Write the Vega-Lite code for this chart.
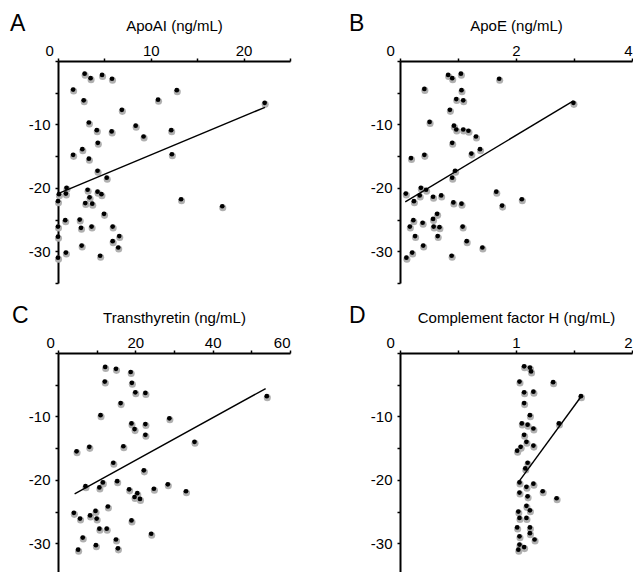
{
  "$schema": "https://vega.github.io/schema/vega-lite/v6.json",
  "padding": {"left": 10, "top": 13, "right": 0, "bottom": 0},
  "background": "white",
  "config": {
    "view": {"stroke": null},
    "font": "Liberation Sans",
    "axis": {
      "grid": false,
      "domainColor": "black",
      "domainWidth": 2,
      "tickColor": "black",
      "tickWidth": 1.5,
      "tickSize": 3,
      "labelFont": "Liberation Sans",
      "labelFontSize": 15,
      "labelColor": "black",
      "labelOverlap": false,
      "titleFont": "Liberation Sans",
      "titleFontSize": 15,
      "titleFontWeight": "normal",
      "titleColor": "black"
    },
    "axisX": {"labelPadding": 0, "titlePadding": 10},
    "axisY": {"labelPadding": 5},
    "title": {"fontSize": 23, "fontWeight": "normal", "anchor": "start", "frame": "group", "color": "black", "font": "Liberation Sans", "offset": 0}
  },
  "datasets": {
    "pts": [
      {"panel":"A","x":2.87,"y":-2.0},{"panel":"A","x":3.51,"y":-2.7},{"panel":"A","x":4.75,"y":-2.2},{"panel":"A","x":5.82,"y":-2.8},
      {"panel":"A","x":1.63,"y":-4.5},{"panel":"A","x":12.8,"y":-4.6},{"panel":"A","x":2.77,"y":-6.2},{"panel":"A","x":10.78,"y":-6.1},
      {"panel":"A","x":22.27,"y":-6.6},{"panel":"A","x":6.88,"y":-7.7},{"panel":"A","x":3.33,"y":-9.7},{"panel":"A","x":8.37,"y":-10.2},
      {"panel":"A","x":4.18,"y":-10.9},{"panel":"A","x":5.78,"y":-11.1},{"panel":"A","x":12.2,"y":-10.9},{"panel":"A","x":9.22,"y":-11.9},
      {"panel":"A","x":4.29,"y":-12.9},{"panel":"A","x":2.62,"y":-13.9},{"panel":"A","x":1.63,"y":-14.8},{"panel":"A","x":3.33,"y":-15.4},
      {"panel":"A","x":12.27,"y":-14.7},{"panel":"A","x":4.26,"y":-17.3},{"panel":"A","x":5.25,"y":-18.4},{"panel":"A","x":0.92,"y":-20.0},
      {"panel":"A","x":0.85,"y":-20.9},{"panel":"A","x":3.19,"y":-20.3},{"panel":"A","x":4.26,"y":-20.6},{"panel":"A","x":4.68,"y":-21.0},
      {"panel":"A","x":3.4,"y":-21.5},{"panel":"A","x":0.1,"y":-21.0},{"panel":"A","x":0.0,"y":-22.1},{"panel":"A","x":2.94,"y":-22.4},
      {"panel":"A","x":3.69,"y":-22.5},{"panel":"A","x":13.26,"y":-21.8},{"panel":"A","x":17.7,"y":-22.9},{"panel":"A","x":4.96,"y":-24.1},
      {"panel":"A","x":0.78,"y":-25.1},{"panel":"A","x":2.34,"y":-25.0},{"panel":"A","x":2.48,"y":-26.3},{"panel":"A","x":3.62,"y":-26.1},
      {"panel":"A","x":5.89,"y":-26.1},{"panel":"A","x":0.0,"y":-26.1},{"panel":"A","x":0.0,"y":-27.7},{"panel":"A","x":6.6,"y":-27.6},
      {"panel":"A","x":5.89,"y":-28.4},{"panel":"A","x":6.49,"y":-29.4},{"panel":"A","x":2.55,"y":-29.1},{"panel":"A","x":0.85,"y":-30.2},
      {"panel":"A","x":4.54,"y":-30.7},{"panel":"A","x":0.0,"y":-31.0},

      {"panel":"B","x":0.83,"y":-2.2},{"panel":"B","x":0.90,"y":-2.7},{"panel":"B","x":1.05,"y":-2.0},{"panel":"B","x":1.71,"y":-2.8},
      {"panel":"B","x":0.42,"y":-4.4},{"panel":"B","x":1.06,"y":-4.6},{"panel":"B","x":0.97,"y":-6.0},{"panel":"B","x":1.09,"y":-6.2},
      {"panel":"B","x":2.99,"y":-6.6},{"panel":"B","x":0.86,"y":-7.7},{"panel":"B","x":0.51,"y":-9.6},{"panel":"B","x":0.93,"y":-10.2},
      {"panel":"B","x":0.97,"y":-10.8},{"panel":"B","x":1.09,"y":-10.8},{"panel":"B","x":1.18,"y":-11.0},{"panel":"B","x":1.31,"y":-11.9},
      {"panel":"B","x":0.90,"y":-12.9},{"panel":"B","x":1.38,"y":-13.9},{"panel":"B","x":1.23,"y":-14.6},{"panel":"B","x":0.19,"y":-15.3},
      {"panel":"B","x":0.42,"y":-14.8},{"panel":"B","x":0.95,"y":-17.3},{"panel":"B","x":0.90,"y":-18.4},{"panel":"B","x":0.36,"y":-20.0},
      {"panel":"B","x":0.45,"y":-20.3},{"panel":"B","x":0.10,"y":-20.9},{"panel":"B","x":0.34,"y":-21.2},{"panel":"B","x":0.57,"y":-21.4},
      {"panel":"B","x":0.71,"y":-21.2},{"panel":"B","x":0.24,"y":-22.1},{"panel":"B","x":0.92,"y":-22.3},{"panel":"B","x":1.06,"y":-22.5},
      {"panel":"B","x":1.66,"y":-20.6},{"panel":"B","x":1.76,"y":-22.8},{"panel":"B","x":2.10,"y":-21.8},{"panel":"B","x":0.64,"y":-24.1},
      {"panel":"B","x":0.57,"y":-24.9},{"panel":"B","x":0.23,"y":-25.1},{"panel":"B","x":0.39,"y":-25.5},{"panel":"B","x":0.17,"y":-26.1},
      {"panel":"B","x":0.58,"y":-26.1},{"panel":"B","x":0.68,"y":-26.2},{"panel":"B","x":1.08,"y":-26.1},{"panel":"B","x":0.26,"y":-27.6},
      {"panel":"B","x":0.65,"y":-27.6},{"panel":"B","x":1.15,"y":-28.4},{"panel":"B","x":0.40,"y":-29.1},{"panel":"B","x":1.42,"y":-29.4},
      {"panel":"B","x":0.21,"y":-30.2},{"panel":"B","x":0.89,"y":-30.7},{"panel":"B","x":0.11,"y":-31.0},

      {"panel":"C","x":12.2,"y":-2.2},{"panel":"C","x":15.0,"y":-2.5},{"panel":"C","x":18.8,"y":-3.0},{"panel":"C","x":12.1,"y":-4.5},
      {"panel":"C","x":19.1,"y":-4.7},{"panel":"C","x":20.0,"y":-6.2},{"panel":"C","x":22.6,"y":-6.3},{"panel":"C","x":54.0,"y":-6.8},
      {"panel":"C","x":16.2,"y":-7.9},{"panel":"C","x":11.0,"y":-9.8},{"panel":"C","x":28.8,"y":-10.3},{"panel":"C","x":19.0,"y":-11.1},
      {"panel":"C","x":22.6,"y":-11.2},{"panel":"C","x":19.8,"y":-12.0},{"panel":"C","x":22.6,"y":-12.9},{"panel":"C","x":35.3,"y":-14.0},
      {"panel":"C","x":8.1,"y":-14.8},{"panel":"C","x":4.8,"y":-15.5},{"panel":"C","x":16.9,"y":-14.7},{"panel":"C","x":14.3,"y":-17.3},
      {"panel":"C","x":22.2,"y":-18.5},{"panel":"C","x":11.6,"y":-20.4},{"panel":"C","x":15.3,"y":-20.2},{"panel":"C","x":7.1,"y":-21.0},
      {"panel":"C","x":10.7,"y":-21.2},{"panel":"C","x":18.4,"y":-21.5},{"panel":"C","x":20.5,"y":-22.1},{"panel":"C","x":19.8,"y":-22.7},
      {"panel":"C","x":21.2,"y":-23.0},{"panel":"C","x":24.8,"y":-21.4},{"panel":"C","x":28.4,"y":-20.7},{"panel":"C","x":33.1,"y":-21.8},
      {"panel":"C","x":12.9,"y":-24.2},{"panel":"C","x":4.1,"y":-25.2},{"panel":"C","x":9.7,"y":-24.9},{"panel":"C","x":8.3,"y":-25.6},
      {"panel":"C","x":10.0,"y":-26.1},{"panel":"C","x":5.7,"y":-26.1},{"panel":"C","x":19.0,"y":-26.4},{"panel":"C","x":10.7,"y":-27.7},
      {"panel":"C","x":12.6,"y":-27.7},{"panel":"C","x":6.4,"y":-29.1},{"panel":"C","x":24.1,"y":-28.5},{"panel":"C","x":15.0,"y":-29.4},
      {"panel":"C","x":9.8,"y":-30.3},{"panel":"C","x":5.2,"y":-31.0},{"panel":"C","x":15.5,"y":-30.8},

      {"panel":"D","x":1.07,"y":-2.1},{"panel":"D","x":1.12,"y":-2.3},{"panel":"D","x":1.13,"y":-2.9},{"panel":"D","x":1.03,"y":-4.5},
      {"panel":"D","x":1.32,"y":-4.6},{"panel":"D","x":1.07,"y":-6.2},{"panel":"D","x":1.15,"y":-6.1},{"panel":"D","x":1.56,"y":-6.8},
      {"panel":"D","x":1.07,"y":-7.9},{"panel":"D","x":1.12,"y":-9.8},{"panel":"D","x":1.05,"y":-11.1},{"panel":"D","x":1.10,"y":-11.3},
      {"panel":"D","x":1.15,"y":-11.9},{"panel":"D","x":1.37,"y":-11.1},{"panel":"D","x":1.07,"y":-12.9},{"panel":"D","x":1.09,"y":-14.0},
      {"panel":"D","x":1.15,"y":-14.6},{"panel":"D","x":1.04,"y":-14.8},{"panel":"D","x":1.01,"y":-15.4},{"panel":"D","x":1.10,"y":-17.3},
      {"panel":"D","x":1.08,"y":-18.2},{"panel":"D","x":1.03,"y":-20.4},{"panel":"D","x":1.15,"y":-20.6},{"panel":"D","x":1.09,"y":-21.1},
      {"panel":"D","x":1.03,"y":-22.0},{"panel":"D","x":1.10,"y":-22.6},{"panel":"D","x":1.23,"y":-21.8},{"panel":"D","x":1.35,"y":-22.9},
      {"panel":"D","x":1.09,"y":-24.1},{"panel":"D","x":1.12,"y":-24.8},{"panel":"D","x":1.02,"y":-25.0},{"panel":"D","x":1.03,"y":-26.0},
      {"panel":"D","x":1.09,"y":-26.0},{"panel":"D","x":1.01,"y":-27.5},{"panel":"D","x":1.12,"y":-27.5},{"panel":"D","x":1.12,"y":-28.4},
      {"panel":"D","x":1.16,"y":-29.4},{"panel":"D","x":1.03,"y":-28.9},{"panel":"D","x":1.03,"y":-30.2},{"panel":"D","x":1.07,"y":-30.6},
      {"panel":"D","x":1.02,"y":-31.0}
    ],
    "lines": [
      {"panel":"A","x":0.2,"y":-20.8},{"panel":"A","x":22.3,"y":-7.3},
      {"panel":"B","x":0.09,"y":-22.2},{"panel":"B","x":2.99,"y":-6.3},
      {"panel":"C","x":4.3,"y":-22.2},{"panel":"C","x":53.7,"y":-5.6},
      {"panel":"D","x":1.02,"y":-20.4},{"panel":"D","x":1.56,"y":-6.9}
    ]
  },
  "columns": 2,
  "bounds": "flush",
  "spacing": {"column": 110, "row": 70},
  "concat": [
    {
      "width": 232, "height": 222,
      "title": {"text": "A", "dx": -48, "dy": 22},
      "encoding": {
        "x": {"field": "x", "type": "quantitative", "scale": {"domain": [0, 25], "nice": false}, "axis": {"orient": "top", "title": "ApoAI (ng/mL)", "values": [0, 5, 10, 15, 20, 25], "labelExpr": "datum.value == 0 ? '0' : datum.value == 10 ? '10' : datum.value == 20 ? '20' : ''", "labelOffset": {"condition": {"test": "datum.value === 0", "value": -13}, "value": 0}}},
        "y": {"field": "y", "type": "quantitative", "scale": {"domain": [-35, 0], "nice": false}, "axis": {"title": null, "values": [0, -5, -10, -15, -20, -25, -30, -35], "labelExpr": "datum.value == -10 ? '-10' : datum.value == -20 ? '-20' : datum.value == -30 ? '-30' : ''"}}
      },
      "layer": [
        {"data": {"name": "pts"}, "transform": [{"filter": "datum.panel === 'A'"}],
         "mark": {"type": "circle", "size": 50, "color": "#b0b0b0", "opacity": 1, "yOffset": 1.5, "xOffset": 0.5}},
        {"data": {"name": "pts"}, "transform": [{"filter": "datum.panel === 'A'"}],
         "mark": {"type": "circle", "size": 22, "color": "black", "opacity": 1}},
        {"data": {"name": "lines"}, "transform": [{"filter": "datum.panel === 'A'"}],
         "mark": {"type": "line", "color": "black", "strokeWidth": 1.4}}
      ]
    },
    {
      "width": 232, "height": 222,
      "title": {"text": "B", "dx": -51, "dy": 22},
      "encoding": {
        "x": {"field": "x", "type": "quantitative", "scale": {"domain": [0, 4], "nice": false}, "axis": {"orient": "top", "title": "ApoE (ng/mL)", "values": [0, 1, 2, 3, 4], "labelExpr": "datum.value == 0 ? '0' : datum.value == 2 ? '2' : datum.value == 4 ? '4' : ''", "labelOffset": {"condition": {"test": "datum.value === 0", "value": -14}, "value": 0}}},
        "y": {"field": "y", "type": "quantitative", "scale": {"domain": [-35, 0], "nice": false}, "axis": {"title": null, "values": [0, -5, -10, -15, -20, -25, -30, -35], "labelExpr": "datum.value == -10 ? '-10' : datum.value == -20 ? '-20' : datum.value == -30 ? '-30' : ''"}}
      },
      "layer": [
        {"data": {"name": "pts"}, "transform": [{"filter": "datum.panel === 'B'"}],
         "mark": {"type": "circle", "size": 50, "color": "#b0b0b0", "opacity": 1, "yOffset": 1.5, "xOffset": 0.5}},
        {"data": {"name": "pts"}, "transform": [{"filter": "datum.panel === 'B'"}],
         "mark": {"type": "circle", "size": 22, "color": "black", "opacity": 1}},
        {"data": {"name": "lines"}, "transform": [{"filter": "datum.panel === 'B'"}],
         "mark": {"type": "line", "color": "black", "strokeWidth": 1.4}}
      ]
    },
    {
      "width": 232, "height": 222,
      "title": {"text": "C", "dx": -46, "dy": 22},
      "encoding": {
        "x": {"field": "x", "type": "quantitative", "scale": {"domain": [0, 60], "nice": false}, "axis": {"orient": "top", "title": "Transthyretin (ng/mL)", "values": [0, 10, 20, 30, 40, 50, 60], "labelExpr": "datum.value == 0 ? '0' : datum.value == 20 ? '20' : datum.value == 40 ? '40' : datum.value == 60 ? '60' : ''", "labelOffset": {"condition": {"test": "datum.value === 0", "value": -12}, "value": 0}}},
        "y": {"field": "y", "type": "quantitative", "scale": {"domain": [-35, 0], "nice": false}, "axis": {"title": null, "values": [0, -5, -10, -15, -20, -25, -30, -35], "labelExpr": "datum.value == -10 ? '-10' : datum.value == -20 ? '-20' : datum.value == -30 ? '-30' : ''"}}
      },
      "layer": [
        {"data": {"name": "pts"}, "transform": [{"filter": "datum.panel === 'C'"}],
         "mark": {"type": "circle", "size": 50, "color": "#b0b0b0", "opacity": 1, "yOffset": 1.5, "xOffset": 0.5}},
        {"data": {"name": "pts"}, "transform": [{"filter": "datum.panel === 'C'"}],
         "mark": {"type": "circle", "size": 22, "color": "black", "opacity": 1}},
        {"data": {"name": "lines"}, "transform": [{"filter": "datum.panel === 'C'"}],
         "mark": {"type": "line", "color": "black", "strokeWidth": 1.4}}
      ]
    },
    {
      "width": 232, "height": 222,
      "title": {"text": "D", "dx": -51, "dy": 22},
      "encoding": {
        "x": {"field": "x", "type": "quantitative", "scale": {"domain": [0, 2], "nice": false}, "axis": {"orient": "top", "title": "Complement factor H (ng/mL)", "values": [0, 0.5, 1, 1.5, 2], "labelExpr": "datum.value == 0 ? '0' : datum.value == 1 ? '1' : datum.value == 2 ? '2' : ''", "labelOffset": {"condition": {"test": "datum.value === 0", "value": -14}, "value": 0}}},
        "y": {"field": "y", "type": "quantitative", "scale": {"domain": [-35, 0], "nice": false}, "axis": {"title": null, "values": [0, -5, -10, -15, -20, -25, -30, -35], "labelExpr": "datum.value == -10 ? '-10' : datum.value == -20 ? '-20' : datum.value == -30 ? '-30' : ''"}}
      },
      "layer": [
        {"data": {"name": "pts"}, "transform": [{"filter": "datum.panel === 'D'"}],
         "mark": {"type": "circle", "size": 50, "color": "#b0b0b0", "opacity": 1, "yOffset": 1.5, "xOffset": 0.5}},
        {"data": {"name": "pts"}, "transform": [{"filter": "datum.panel === 'D'"}],
         "mark": {"type": "circle", "size": 22, "color": "black", "opacity": 1}},
        {"data": {"name": "lines"}, "transform": [{"filter": "datum.panel === 'D'"}],
         "mark": {"type": "line", "color": "black", "strokeWidth": 1.4}}
      ]
    }
  ]
}
